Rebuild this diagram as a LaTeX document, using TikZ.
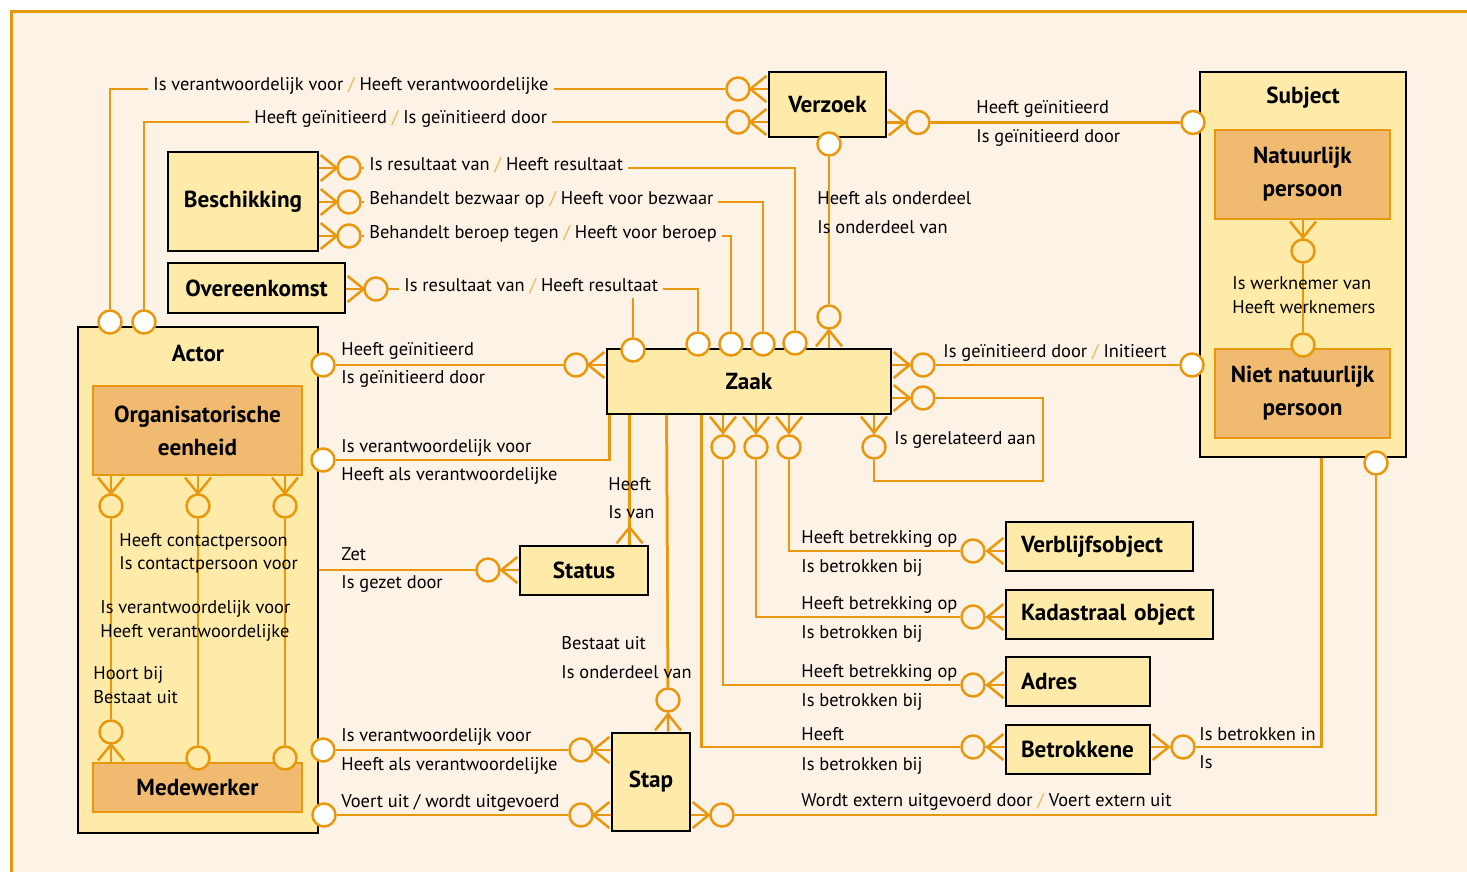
\documentclass[tikz,border=0pt]{standalone}
\usepackage{fontspec}
\setmainfont{PT Sans}
\usetikzlibrary{arrows.meta}
\definecolor{bg}{HTML}{FDF2E6}
\definecolor{lineorange}{HTML}{E9980E}
\definecolor{boxyellow}{HTML}{FFEBA9}
\definecolor{subbox}{HTML}{F0BB70}
\definecolor{slashorange}{HTML}{F2B452}
\newcommand{\slsh}{\textcolor{slashorange}{/}}

\begin{document}
\begin{tikzpicture}[x=0.5pt, y=-0.5pt, every node/.style={font=\fontsize{9.2}{11}\selectfont}]
  % Styles
  \tikzset{
    entity/.style = {draw=black, line width=1.4pt, fill=boxyellow, inner sep=0pt, font=\fontsize{11.6}{16.5}\selectfont\bfseries, align=center},
    leftentity/.style = {entity, align=left, inner xsep=7.5pt},
    subentity/.style = {draw=lineorange, line width=1.25pt, fill=subbox, inner sep=0pt, font=\fontsize{11.6}{16.5}\selectfont\bfseries, align=center},
    boxtitle/.style = {font=\fontsize{11.6}{13}\selectfont\bfseries, inner sep=0pt},
    one/.style = {circle, draw=lineorange, line width=1.25pt, fill=white, minimum size=11.5pt, inner sep=0pt},
    many/.style = {one, fill=bg},
    onein/.style = {one, fill=boxyellow},
    link/.style = {draw=lineorange, line width=1.25pt},
    crow/.style = {-{Straight Barb[reversed, length=8pt, width=13pt]}, postaction={draw=lineorange, arrows=-}},
    rel/.style = {anchor=base west, inner sep=0pt},
    onrel/.style = {rel, fill=bg, inner xsep=2.5pt, inner ysep=2pt}
  }

  % Frame
  \path[use as bounding box] (0,0) rectangle (1467,872);
  \fill[white] (0,0) rectangle (1467,872);
  \draw[draw=lineorange, line width=1.35pt, fill=bg] (11.5,11.5) rectangle (1490,900);

  % Entities
  \node[entity, minimum width=58.5pt, minimum height=32.5pt] (Verzoek) at (827.5,104.5) {Verzoek};
  \node[entity, minimum width=103pt, minimum height=192.5pt] (Subject) at (1303,264.5) {};
  \node[boxtitle] (SubjectTitle) at (1303,98) {Subject};
  \node[subentity, minimum width=87.5pt, minimum height=44.5pt] (NatPers) at (1302.5,174.5) {Natuurlijk\\persoon};
  \node[subentity, minimum width=87.5pt, minimum height=44.5pt] (NietNatPers) at (1302.5,393.5) {Niet natuurlijk\\persoon};
  \node[entity, minimum width=75pt, minimum height=49.5pt] (Beschikking) at (243,201.5) {Beschikking};
  \node[entity, minimum width=88.5pt, minimum height=25pt] (Overeenkomst) at (256.5,288) {Overeenkomst};
  \node[entity, minimum width=120pt, minimum height=253pt] (Actor) at (198,580) {};
  \node[boxtitle] (ActorTitle) at (198,353) {Actor};
  \node[subentity, minimum width=104.5pt, minimum height=44.5pt] (OrgEenheid) at (197.5,430.5) {Organisatorische\\eenheid};
  \node[subentity, minimum width=104.5pt, minimum height=24.5pt] (Medewerker) at (197.5,787.5) {Medewerker};
  \node[entity, minimum width=142pt, minimum height=32.5pt] (Zaak) at (749,381.5) {Zaak};
  \node[entity, minimum width=64pt, minimum height=24.5pt] (Status) at (584,570.5) {Status};
  \node[entity, minimum width=39pt, minimum height=49pt] (Stap) at (651,782) {Stap};
  \node[leftentity, text width=78.5pt, minimum height=24.5pt] (Verblijfsobject) at (1099.5,546.5) {Verblijfsobject};
  \node[leftentity, text width=88.5pt, minimum height=24.5pt] (Kadastraal) at (1109.5,614.5) {Kadastraal object};
  \node[leftentity, text width=57pt, minimum height=24.5pt] (Adres) at (1078,681.5) {Adres};
  \node[leftentity, text width=57pt, minimum height=24.5pt] (Betrokkene) at (1078,749.5) {Betrokkene};

  % Circles
  \node[one] (aT1) at (110,322) {};
  \node[one] (aT2) at (144,322) {};
  \node[many] (vzL1) at (738,89) {};
  \node[many] (vzL2) at (738,122) {};
  \node[many] (vzR) at (918,122.5) {};
  \node[one] (vzB) at (829,144) {};
  \node[one] (sjL1) at (1193,122.5) {};
  \node[one] (sjL2) at (1192,365) {};
  \node[one] (sjB) at (1376,463) {};
  \node[onein] (npB) at (1303,251) {};
  \node[onein] (nnT) at (1303,345) {};
  \node[many] (bsR1) at (349,168) {};
  \node[many] (bsR2) at (349,202) {};
  \node[many] (bsR3) at (349,236) {};
  \node[many] (ovR) at (376,289) {};
  \node[one] (zT1) at (633,350) {};
  \node[one] (zT2) at (698,344) {};
  \node[one] (zT3) at (731,344) {};
  \node[one] (zT4) at (763,344) {};
  \node[one] (zT5) at (795,343) {};
  \node[many] (zT6) at (829,317) {};
  \node[many] (zL) at (576,365) {};
  \node[many] (zR1) at (923,365) {};
  \node[many] (zR2) at (923,398) {};
  \node[many] (zB1) at (723,447) {};
  \node[many] (zB2) at (756,447) {};
  \node[many] (zB3) at (789,447) {};
  \node[many] (zB4) at (874,447) {};
  \node[one] (aR1) at (323,365) {};
  \node[one] (aR2) at (323,460) {};
  \node[one] (aR3) at (323,750) {};
  \node[one] (aR4) at (324,815) {};
  \node[many] (stL) at (488,570) {};
  \node[many] (spT) at (668,700) {};
  \node[many] (spL1) at (581,750) {};
  \node[many] (spL2) at (581,815) {};
  \node[many] (spR) at (722,815) {};
  \node[many] (vbL) at (973,551) {};
  \node[many] (kdL) at (973,617) {};
  \node[many] (adL) at (973,685) {};
  \node[many] (btL) at (973,747) {};
  \node[many] (btR) at (1183,747) {};
  \node[onein] (oeB1) at (111,506) {};
  \node[onein] (oeB2) at (198,506) {};
  \node[onein] (oeB3) at (285,506) {};
  \node[onein] (mwT1) at (111,732) {};
  \node[onein] (mwT2) at (198,758) {};
  \node[onein] (mwT3) at (285,758) {};
  \coordinate (ovJoin) at (633,289);
  \coordinate (relCorner) at (1043,481);

  % Connections
  \draw[link, crow] (aT1) |- (vzL1) -- (vzL1 -| Verzoek.west);
  \draw[link, crow] (aT2) |- (vzL2) -- (vzL2 -| Verzoek.west);
  \draw[link, crow] (sjL1) -- (vzR) -- (vzR -| Verzoek.east);
  \draw[link, crow] (vzB) -- (zT6) -- (zT6 |- Zaak.north);
  \draw[link, crow] (zT5) |- (bsR1) -- (bsR1 -| Beschikking.east);
  \draw[link, crow] (zT4) |- (bsR2) -- (bsR2 -| Beschikking.east);
  \draw[link, crow] (zT3) |- (bsR3) -- (bsR3 -| Beschikking.east);
  \draw[link, crow] (zT2) |- (ovR) -- (ovR -| Overeenkomst.east);
  \draw[link] (zT1) -- (ovJoin);
  \draw[link, crow] (aR1) -- (zL) -- (zL -| Zaak.west);
  \draw[link] (aR2) -| ([xshift=2pt]Zaak.south west);
  \draw[link, crow] ([xshift=12pt]Zaak.south west) -- ([xshift=12pt]Zaak.south west |- Status.north);
  \draw[link, crow] (stL -| Actor.east) -- (stL) -- (stL -| Status.west);
  \draw[link, crow] ([xshift=30.5pt]Zaak.south west) -- (spT) -- (spT |- Stap.north);
  \draw[link, crow] ([xshift=48pt]Zaak.south west) |- (btL) -- (btL -| Betrokkene.west);
  \draw[link, crow] (zB1) |- (adL) -- (adL -| Adres.west);
  \draw[link, crow] (zB2) |- (kdL) -- (kdL -| Kadastraal.west);
  \draw[link, crow] (zB3) |- (vbL) -- (vbL -| Verblijfsobject.west);
  \draw[link, crow] (zB1) -- (zB1 |- Zaak.south);
  \draw[link, crow] (zB2) -- (zB2 |- Zaak.south);
  \draw[link, crow] (zB3) -- (zB3 |- Zaak.south);
  \draw[link, crow] (sjL2) -- (zR1) -- (zR1 -| Zaak.east);
  \draw[link, crow] (zR2) -- (zR2 -| Zaak.east);
  \draw[link] (zR2) -| (relCorner) -| (zB4);
  \draw[link, crow] (zB4) -- (zB4 |- Zaak.south);
  \draw[link, crow] (nnT) -- (npB) -- (npB |- NatPers.south);
  \draw[link, crow] ([xshift=61.5pt]Subject.south west) |- (btR) -- (btR -| Betrokkene.east);
  \draw[link, crow] (sjB) |- (spR) -- (spR -| Stap.east);
  \draw[link, crow] (aR3) -- (spL1) -- (spL1 -| Stap.west);
  \draw[link, crow] (aR4) -- (spL2) -- (spL2 -| Stap.west);
  \draw[link, crow] (mwT1) -- (oeB1) -- (oeB1 |- OrgEenheid.south);
  \draw[link, crow] (oeB1) -- (mwT1) -- (mwT1 |- Medewerker.north);
  \draw[link, crow] (mwT2) -- (oeB2) -- (oeB2 |- OrgEenheid.south);
  \draw[link, crow] (mwT3) -- (oeB3) -- (oeB3 |- OrgEenheid.south);

  % Labels on lines
  \node[onrel] (lblVzA) at (148,91) {Is verantwoordelijk voor \slsh{} Heeft verantwoordelijke};
  \node[onrel] (lblVzB) at (249,124) {Heeft geïnitieerd \slsh{} Is geïnitieerd door};
  \node[onrel] (lblBs1) at (364,170) {Is resultaat van \slsh{} Heeft resultaat};
  \node[onrel] (lblBs2) at (364,204) {Behandelt bezwaar op \slsh{} Heeft voor bezwaar};
  \node[onrel] (lblBs3) at (364,238) {Behandelt beroep tegen \slsh{} Heeft voor beroep};
  \node[onrel] (lblOv) at (399,291) {Is resultaat van \slsh{} Heeft resultaat};

  % Labels beside lines
  \node[rel] (lblVzS1) at (976,114) {Heeft geïnitieerd};
  \node[rel] (lblVzS2) at (976,142) {Is geïnitieerd door};
  \node[rel] (lblVzZ1) at (817,204) {Heeft als onderdeel};
  \node[rel] (lblVzZ2) at (817,233) {Is onderdeel van};
  \node[rel] (lblAZ1) at (341,355) {Heeft geïnitieerd};
  \node[rel] (lblAZ2) at (341,383) {Is geïnitieerd door};
  \node[rel] (lblAZ3) at (341,452) {Is verantwoordelijk voor};
  \node[rel] (lblAZ4) at (341,480) {Heeft als verantwoordelijke};
  \node[rel] (lblZSt1) at (608,490) {Heeft};
  \node[rel] (lblZSt2) at (608,518) {Is van};
  \node[rel] (lblASt1) at (341,560) {Zet};
  \node[rel] (lblASt2) at (341,588) {Is gezet door};
  \node[rel] (lblZSj) at (943,357) {Is geïnitieerd door \slsh{} Initieert};
  \node[rel] (lblRel) at (894,444) {Is gerelateerd aan};
  \node[rel] (lblNp1) at (1232,289) {Is werknemer van};
  \node[rel] (lblNp2) at (1232,313) {Heeft werknemers};
  \node[rel] (lblVb1) at (801,543) {Heeft betrekking op};
  \node[rel] (lblVb2) at (801,572) {Is betrokken bij};
  \node[rel] (lblKd1) at (801,609) {Heeft betrekking op};
  \node[rel] (lblKd2) at (801,638) {Is betrokken bij};
  \node[rel] (lblAd1) at (801,677) {Heeft betrekking op};
  \node[rel] (lblAd2) at (801,706) {Is betrokken bij};
  \node[rel] (lblBt1) at (801,740) {Heeft};
  \node[rel] (lblBt2) at (801,770) {Is betrokken bij};
  \node[rel] (lblBtS1) at (1199,740) {Is betrokken in};
  \node[rel] (lblBtS2) at (1199,768) {Is};
  \node[rel] (lblSpS) at (801,806) {Wordt extern uitgevoerd door \slsh{} Voert extern uit};
  \node[rel] (lblZSp1) at (561,649) {Bestaat uit};
  \node[rel] (lblZSp2) at (561,678) {Is onderdeel van};
  \node[rel] (lblASp1) at (341,741) {Is verantwoordelijk voor};
  \node[rel] (lblASp2) at (341,770) {Heeft als verantwoordelijke};
  \node[rel] (lblASp3) at (341,807) {Voert uit / wordt uitgevoerd};

  % Labels inside Actor
  \node[rel] (lblOe1) at (119,546) {Heeft contactpersoon};
  \node[rel] (lblOe2) at (119,569) {Is contactpersoon voor};
  \node[rel] (lblOe3) at (100,613) {Is verantwoordelijk voor};
  \node[rel] (lblOe4) at (100,637) {Heeft verantwoordelijke};
  \node[rel] (lblOe5) at (93,679) {Hoort bij};
  \node[rel] (lblOe6) at (93,703) {Bestaat uit};
\end{tikzpicture}
\end{document}
